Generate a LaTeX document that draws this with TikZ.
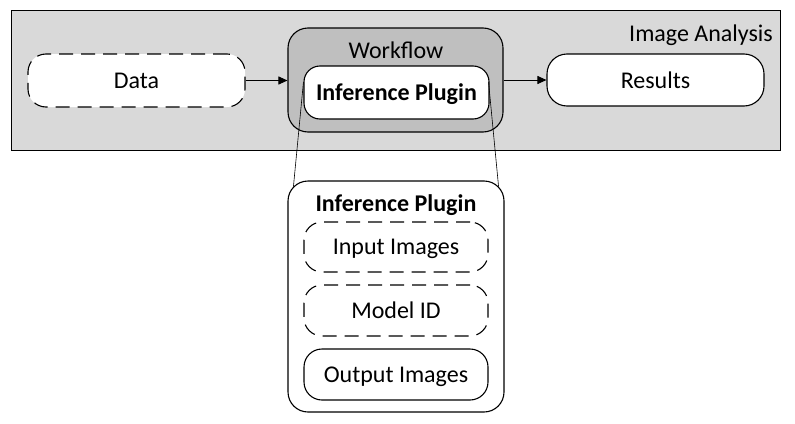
\documentclass[tikz,border=0pt]{standalone}
\usepackage{fontspec}
\setmainfont{Carlito}
\usetikzlibrary{calc,arrows.meta}
\definecolor{outergray}{HTML}{D9D9D9}
\definecolor{wfgray}{HTML}{BFBFBF}
\begin{document}
\begin{tikzpicture}[x=1pt,y=-1pt,
  every node/.style={font=\fontsize{24}{27}\selectfont, text depth=0pt},
  rbox/.style={draw, line width=1.1pt, fill=white, rounded corners=18pt, inner sep=0pt},
  dbox/.style={rbox, dash pattern=on 14pt off 8pt},
  arr/.style={line width=0.9pt, -{Triangle[length=9pt,width=8pt]}},
  zoomline/.style={line width=0.6pt}]
\useasboundingbox (0,0) rectangle (795,423);
\node[draw, line width=1.1pt, fill=outergray, minimum width=769pt, minimum height=140pt, anchor=north west, inner sep=0pt] (ia) at (11,10) {};
\node[anchor=east, inner sep=0pt] (ialabel) at (773,33) {Image Analysis};
\node[dbox, minimum width=217pt, minimum height=53pt] (data) at (136.5,80.5) {Data};
\node[rbox, fill=wfgray, minimum width=215pt, minimum height=104pt, rounded corners=20pt] (wf) at (395.5,80) {};
\node (wflabel) at (396,50) {Workflow};
\node[rbox, minimum width=185pt, minimum height=53pt, rounded corners=16pt, font=\fontsize{24}{27}\selectfont\bfseries] (ip) at (396.5,92.5) {Inference Plugin};
\node[rbox, minimum width=217pt, minimum height=52pt, rounded corners=20pt] (res) at (655.5,80) {Results};
\draw[arr] (data.east) -- (data.east -| wf.west);
\draw[arr] (wf.east |- res.west) -- (res.west);
\node[rbox, minimum width=216pt, minimum height=231pt, rounded corners=20pt] (lp) at (396,296.5) {};
\node[font=\fontsize{24}{27}\selectfont\bfseries] (lptitle) at (396,203) {Inference Plugin};
\node[dbox, minimum width=184pt, minimum height=50pt] (inimg) at (396,247) {Input Images};
\node[dbox, minimum width=184pt, minimum height=51pt] (model) at (396,310.5) {Model ID};
\node[rbox, minimum width=184pt, minimum height=51pt] (outimg) at (396,374.5) {Output Images};
\coordinate (zl1) at ($(ip.west)+(0,-10.5)$);
\coordinate (zl2) at ($(lp.north west)+(6,6)$);
\coordinate (zr1) at ($(ip.east)+(-1,-10.5)$);
\coordinate (zr2) at ($(lp.north east)+(-6,6)$);
\draw[zoomline] (zl1) -- (zl2);
\draw[zoomline] (zr1) -- (zr2);
\end{tikzpicture}
\end{document}
